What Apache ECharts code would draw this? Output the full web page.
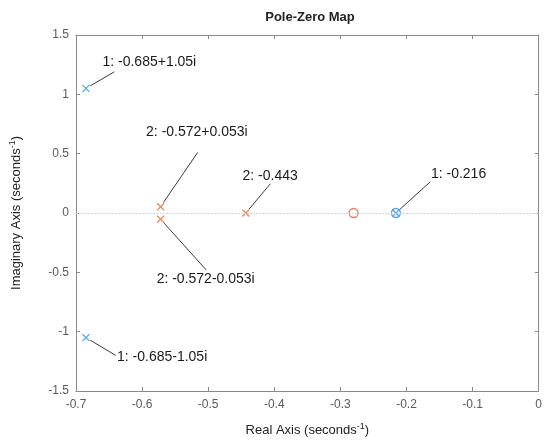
<!DOCTYPE html>
<html>
<head>
<meta charset="utf-8">
<script src="https://cdn.jsdelivr.net/npm/echarts@6/dist/echarts.min.js"></script>
<style>
  html, body { margin: 0; padding: 0; background: #fff; }
  #main { width: 545px; height: 444px; }
</style>
</head>
<body>
<div id="main"></div>
<script>
// axis ticks
const xTicks = [-0.7, -0.6, -0.5, -0.4, -0.3, -0.2, -0.1, 0];
const yTicks = [-1.5, -1, -0.5, 0, 0.5, 1, 1.5];

// system 1 (blue)
const sys1PoleRe = [-0.685, -0.685, -0.216];
const sys1PoleIm = [1.05, -1.05, 0];
const sys1ZeroRe = [-0.216];
const sys1ZeroIm = [0];

// system 2 (orange)
const sys2PoleRe = [-0.572, -0.572, -0.443];
const sys2PoleIm = [0.053, -0.053, 0];
const sys2ZeroRe = [-0.28];
const sys2ZeroIm = [0];

// data tips: point, end of leader line, text anchor (all in data units)
const tipText = ['1: -0.685+1.05i', '2: -0.572+0.053i', '2: -0.443', '1: -0.216', '2: -0.572-0.053i', '1: -0.685-1.05i'];
const tipRe = [-0.685, -0.572, -0.443, -0.216, -0.572, -0.685];
const tipIm = [1.05, 0.053, 0, 0, -0.053, -1.05];
const tipLineRe = [-0.642, -0.516, -0.406, -0.164, -0.503, -0.640];
const tipLineIm = [1.19, 0.51, 0.246, 0.263, -0.48, -1.20];
const tipTextRe = [-0.660, -0.594, -0.448, -0.163, -0.578, -0.638];
const tipTextIm = [1.27, 0.678, 0.314, 0.33, -0.556, -1.215];

const blue = '#2f8fd0';
const orange = '#e0703c';
const font = 'Liberation Sans';
const xMark = 'path://M0,0L10,10M10,0L0,10';

const zip = (a, b) => a.map((v, i) => [v, b[i]]);

const myChart = echarts.init(document.getElementById('main'));

const nameRich = {
  base: { fontSize: 13, color: '#222', fontFamily: font, lineHeight: 16 },
  sup: { fontSize: 9, color: '#222', fontFamily: font, verticalAlign: 'top', lineHeight: 16, padding: [0, 0, 8, 0] }
};

const sideAxis = {
  axisLine: { show: true, onZero: false, lineStyle: { color: '#8a8a8a', width: 1 } },
  axisTick: { show: true, inside: true, length: 4, lineStyle: { color: '#8a8a8a' } },
  axisLabel: { show: false },
  splitLine: { show: false }
};

const option = {
  animation: false,
  title: {
    text: 'Pole-Zero Map',
    left: 305,
    top: 6,
    textAlign: 'center',
    textStyle: { fontSize: 13, fontWeight: 'bold', color: '#222', fontFamily: font }
  },
  grid: { left: 73, right: 5, top: 35, bottom: 50, containLabel: false },
  xAxis: [
    {
      type: 'value', min: -0.7, max: 0, interval: 0.1, position: 'bottom',
      name: '{base|Real Axis (seconds}{sup|-1}{base|)}',
      nameLocation: 'middle', nameGap: 31,
      nameTextStyle: { rich: nameRich },
      axisLine: { show: true, onZero: false, lineStyle: { color: '#8a8a8a', width: 1 } },
      axisTick: { show: true, inside: true, length: 4, lineStyle: { color: '#8a8a8a' } },
      axisLabel: { color: '#5a5a5a', fontSize: 12, fontFamily: font, margin: 8, formatter: v => String(+v.toFixed(1)) },
      splitLine: { show: false }
    },
    Object.assign({ type: 'value', min: -0.7, max: 0, interval: 0.1, position: 'top' }, sideAxis)
  ],
  yAxis: [
    {
      type: 'value', min: -1.5, max: 1.5, interval: 0.5, position: 'left',
      name: '{base|Imaginary Axis (seconds}{sup|-1}{base|)}',
      nameLocation: 'middle', nameGap: 52,
      nameTextStyle: { rich: nameRich },
      axisLine: { show: true, onZero: false, lineStyle: { color: '#8a8a8a', width: 1 } },
      axisTick: { show: true, inside: true, length: 4, lineStyle: { color: '#8a8a8a' } },
      axisLabel: { color: '#5a5a5a', fontSize: 12, fontFamily: font, margin: 7, formatter: v => String(+v.toFixed(1)) },
      splitLine: { show: false }
    },
    Object.assign({ type: 'value', min: -1.5, max: 1.5, interval: 0.5, position: 'right' }, sideAxis)
  ],
  series: [
    {
      type: 'scatter', name: 'axis-zero', data: [], silent: true,
      markLine: {
        silent: true, symbol: 'none', label: { show: false },
        lineStyle: { color: '#d9d9d9', type: [2, 1], width: 1 },
        data: [{ yAxis: 0 }]
      }
    },
    {
      type: 'scatter', name: 'sys1 poles', symbol: xMark, symbolSize: 7,
      itemStyle: { color: 'transparent', borderColor: blue, borderWidth: 1.3 },
      data: zip(sys1PoleRe, sys1PoleIm)
    },
    {
      type: 'scatter', name: 'sys1 zeros', symbol: 'circle', symbolSize: 9,
      itemStyle: { color: 'transparent', borderColor: blue, borderWidth: 1.3 },
      data: zip(sys1ZeroRe, sys1ZeroIm)
    },
    {
      type: 'scatter', name: 'sys2 poles', symbol: xMark, symbolSize: 7,
      itemStyle: { color: 'transparent', borderColor: orange, borderWidth: 1.3 },
      data: zip(sys2PoleRe, sys2PoleIm)
    },
    {
      type: 'scatter', name: 'sys2 zeros', symbol: 'circle', symbolSize: 9,
      itemStyle: { color: 'transparent', borderColor: '#dc5a48', borderWidth: 1.3 },
      data: zip(sys2ZeroRe, sys2ZeroIm)
    },
    {
      // data tips
      type: 'custom', name: 'tips', silent: true,
      data: tipText.map((t, i) => [tipRe[i], tipIm[i], tipLineRe[i], tipLineIm[i], tipTextRe[i], tipTextIm[i]]),
      renderItem: (params, api) => {
        const p = api.coord([api.value(0), api.value(1)]);
        const e = api.coord([api.value(2), api.value(3)]);
        const t = api.coord([api.value(4), api.value(5)]);
        const dx = e[0] - p[0], dy = e[1] - p[1];
        const len = Math.sqrt(dx * dx + dy * dy) || 1;
        const s = [p[0] + dx / len * 5, p[1] + dy / len * 5];
        return {
          type: 'group',
          children: [
            { type: 'line', shape: { x1: s[0], y1: s[1], x2: e[0], y2: e[1] }, style: { stroke: '#3a3a3a', lineWidth: 1 } },
            { type: 'text', x: t[0], y: t[1], style: { text: tipText[params.dataIndex], fill: '#1a1a1a', fontSize: 14, fontFamily: font, align: 'left', verticalAlign: 'middle' } }
          ]
        };
      }
    }
  ]
};

myChart.setOption(option);
window.addEventListener('resize', () => { myChart.resize(); });
</script>
</body>
</html>
